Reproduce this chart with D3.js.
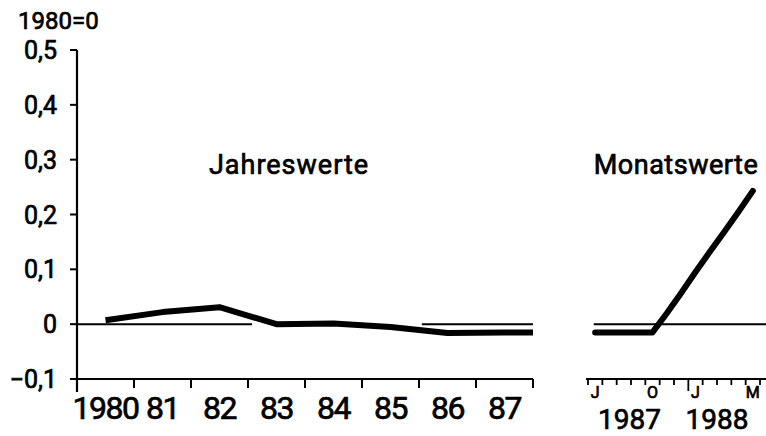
<!DOCTYPE html>
<html>
<head>
<meta charset="utf-8">
<script src="https://cdn.jsdelivr.net/npm/d3@7"></script>
<style>
  body { margin: 0; background: #fff; }
  svg text { font-family: Roboto, "DejaVu Sans", sans-serif; font-weight: 400; fill: #000; stroke: #000; stroke-width: 0.7px; }
</style>
</head>
<body>
<div id="chart"></div>
<script>
// annual values (1980 = 0)
var years = [1980, 1981, 1982, 1983, 1984, 1985, 1986, 1987];
var yearLabels = ['1980', '81', '82', '83', '84', '85', '86', '87'];
var yearValues = [0.007, 0.022, 0.031, 0.0, 0.001, -0.005, -0.016, -0.015];

// monthly values, June 1987 .. May 1988
var monthLabels = ['J', '', '', '', 'O', '', '', 'J', '', '', '', 'M'];
var monthValues = [-0.015, -0.015, -0.015, -0.015, -0.015, 0.02, 0.057, 0.095, 0.132, 0.168, 0.205, 0.243];
var monthYears = [{label: '1987', at: 2.9}, {label: '1988', at: 9}];

var yTicks = [-0.1, 0, 0.1, 0.2, 0.3, 0.4, 0.5];

var width = 766, height = 436;

var svg = d3.select('#chart').append('svg')
	.attr('width', width)
	.attr('height', height);

var y = d3.scaleLinear().domain([-0.1, 0.5]).range([379, 50]);
var xYear = d3.scaleLinear().domain([1980, 1988]).range([77, 533]);
var xMonth = d3.scaleLinear().domain([0, 12]).range([588, 760]);

var fmt = function(d){ return d === 0 ? '0' : d3.format('.1f')(d).replace('.', ',').replace('-', '\u2212'); };

// y axis
svg.append('line')
	.attr('x1', xYear(1980)).attr('x2', xYear(1980))
	.attr('y1', y(0.5)).attr('y2', y(-0.1) + 13)
	.attr('stroke', '#000').attr('stroke-width', 2.2);

svg.selectAll('.ytick').data(yTicks).enter()
	.append('line')
		.attr('x1', xYear(1980) - 7).attr('x2', xYear(1980))
		.attr('y1', function(d){ return y(d); })
		.attr('y2', function(d){ return y(d); })
		.attr('stroke', '#000').attr('stroke-width', 2);

svg.selectAll('.ylabel').data(yTicks).enter()
	.append('text')
		.attr('x', 57)
		.attr('y', function(d){ return y(d) + 9; })
		.attr('text-anchor', 'end')
		.attr('font-size', '25px')
		.text(fmt);

svg.append('text')
	.attr('x', 18).attr('y', 29)
	.attr('font-size', '24px')
	.text('1980=0');

// annual x axis
svg.append('line')
	.attr('x1', xYear(1980) - 5).attr('x2', xYear(1988))
	.attr('y1', y(-0.1)).attr('y2', y(-0.1))
	.attr('stroke', '#000').attr('stroke-width', 2.2);

svg.selectAll('.xtick').data(d3.range(1981, 1989)).enter()
	.append('line')
		.attr('x1', function(d){ return xYear(d); })
		.attr('x2', function(d){ return xYear(d); })
		.attr('y1', y(-0.1)).attr('y2', y(-0.1) + 9)
		.attr('stroke', '#000').attr('stroke-width', 2);

svg.selectAll('.xlabel').data(years).enter()
	.append('text')
		.attr('x', function(d){ return xYear(d + 0.5); })
		.attr('y', 419)
		.attr('text-anchor', 'middle')
		.attr('font-size', '32px')
		.attr('letter-spacing', '-1.5px')
		.text(function(d, i){ return yearLabels[i]; });

// zero reference lines
svg.append('line')
	.attr('x1', xYear(1980)).attr('x2', xYear(1983.07))
	.attr('y1', y(0)).attr('y2', y(0))
	.attr('stroke', '#000').attr('stroke-width', 2);
svg.append('line')
	.attr('x1', xYear(1986.05)).attr('x2', xYear(1988))
	.attr('y1', y(0)).attr('y2', y(0))
	.attr('stroke', '#000').attr('stroke-width', 2);
svg.append('line')
	.attr('x1', xMonth(0.4)).attr('x2', width)
	.attr('y1', y(0)).attr('y2', y(0))
	.attr('stroke', '#000').attr('stroke-width', 2);

// annual line, last value held to the end of the axis
var yearPts = years.map(function(d, i){ return [xYear(d + 0.5), y(yearValues[i])]; });
yearPts.push([xYear(1988), y(yearValues[yearValues.length - 1])]);
svg.append('path')
	.attr('d', d3.line()(yearPts))
	.attr('fill', 'none')
	.attr('stroke', '#000')
	.attr('stroke-width', 6)
	.attr('stroke-linejoin', 'round');

// monthly x axis
svg.append('line')
	.attr('x1', xMonth(0) - 2).attr('x2', width)
	.attr('y1', y(-0.1)).attr('y2', y(-0.1))
	.attr('stroke', '#000').attr('stroke-width', 2.2);

svg.selectAll('.mtick').data(d3.range(0, 13)).enter()
	.append('line')
		.attr('x1', function(d){ return xMonth(d); })
		.attr('x2', function(d){ return xMonth(d); })
		.attr('y1', y(-0.1))
		.attr('y2', function(d){ return y(-0.1) + (d === 7 ? 12 : 6); })
		.attr('stroke', '#000').attr('stroke-width', 1.8);

svg.selectAll('.mlabel').data(monthLabels).enter()
	.append('text')
		.attr('x', function(d, i){ return xMonth(i + 0.5); })
		.attr('y', 398)
		.attr('text-anchor', 'middle')
		.attr('font-size', '16px')
		.attr('font-weight', 'bold')
		.text(function(d){ return d; });

svg.selectAll('.mylabel').data(monthYears).enter()
	.append('text')
		.attr('x', function(d){ return xMonth(d.at); })
		.attr('y', 429)
		.attr('text-anchor', 'middle')
		.attr('font-size', '28px')
		.text(function(d){ return d.label; });

svg.append('path')
	.attr('d', d3.line()
		.x(function(d, i){ return xMonth(i + 0.5); })
		.y(function(d){ return y(d); })(monthValues))
	.attr('fill', 'none')
	.attr('stroke', '#000')
	.attr('stroke-width', 6)
	.attr('stroke-linejoin', 'round')
	.attr('stroke-linecap', 'round');

// panel titles
svg.append('text')
	.attr('x', xYear(1983.72)).attr('y', 174)
	.attr('text-anchor', 'middle')
	.attr('font-size', '27px')
	.attr('letter-spacing', '1px')
	.text('Jahreswerte');
svg.append('text')
	.attr('x', 676).attr('y', 174)
	.attr('text-anchor', 'middle')
	.attr('font-size', '27px')
	.attr('letter-spacing', '0.5px')
	.text('Monatswerte');
</script>
</body>
</html>
